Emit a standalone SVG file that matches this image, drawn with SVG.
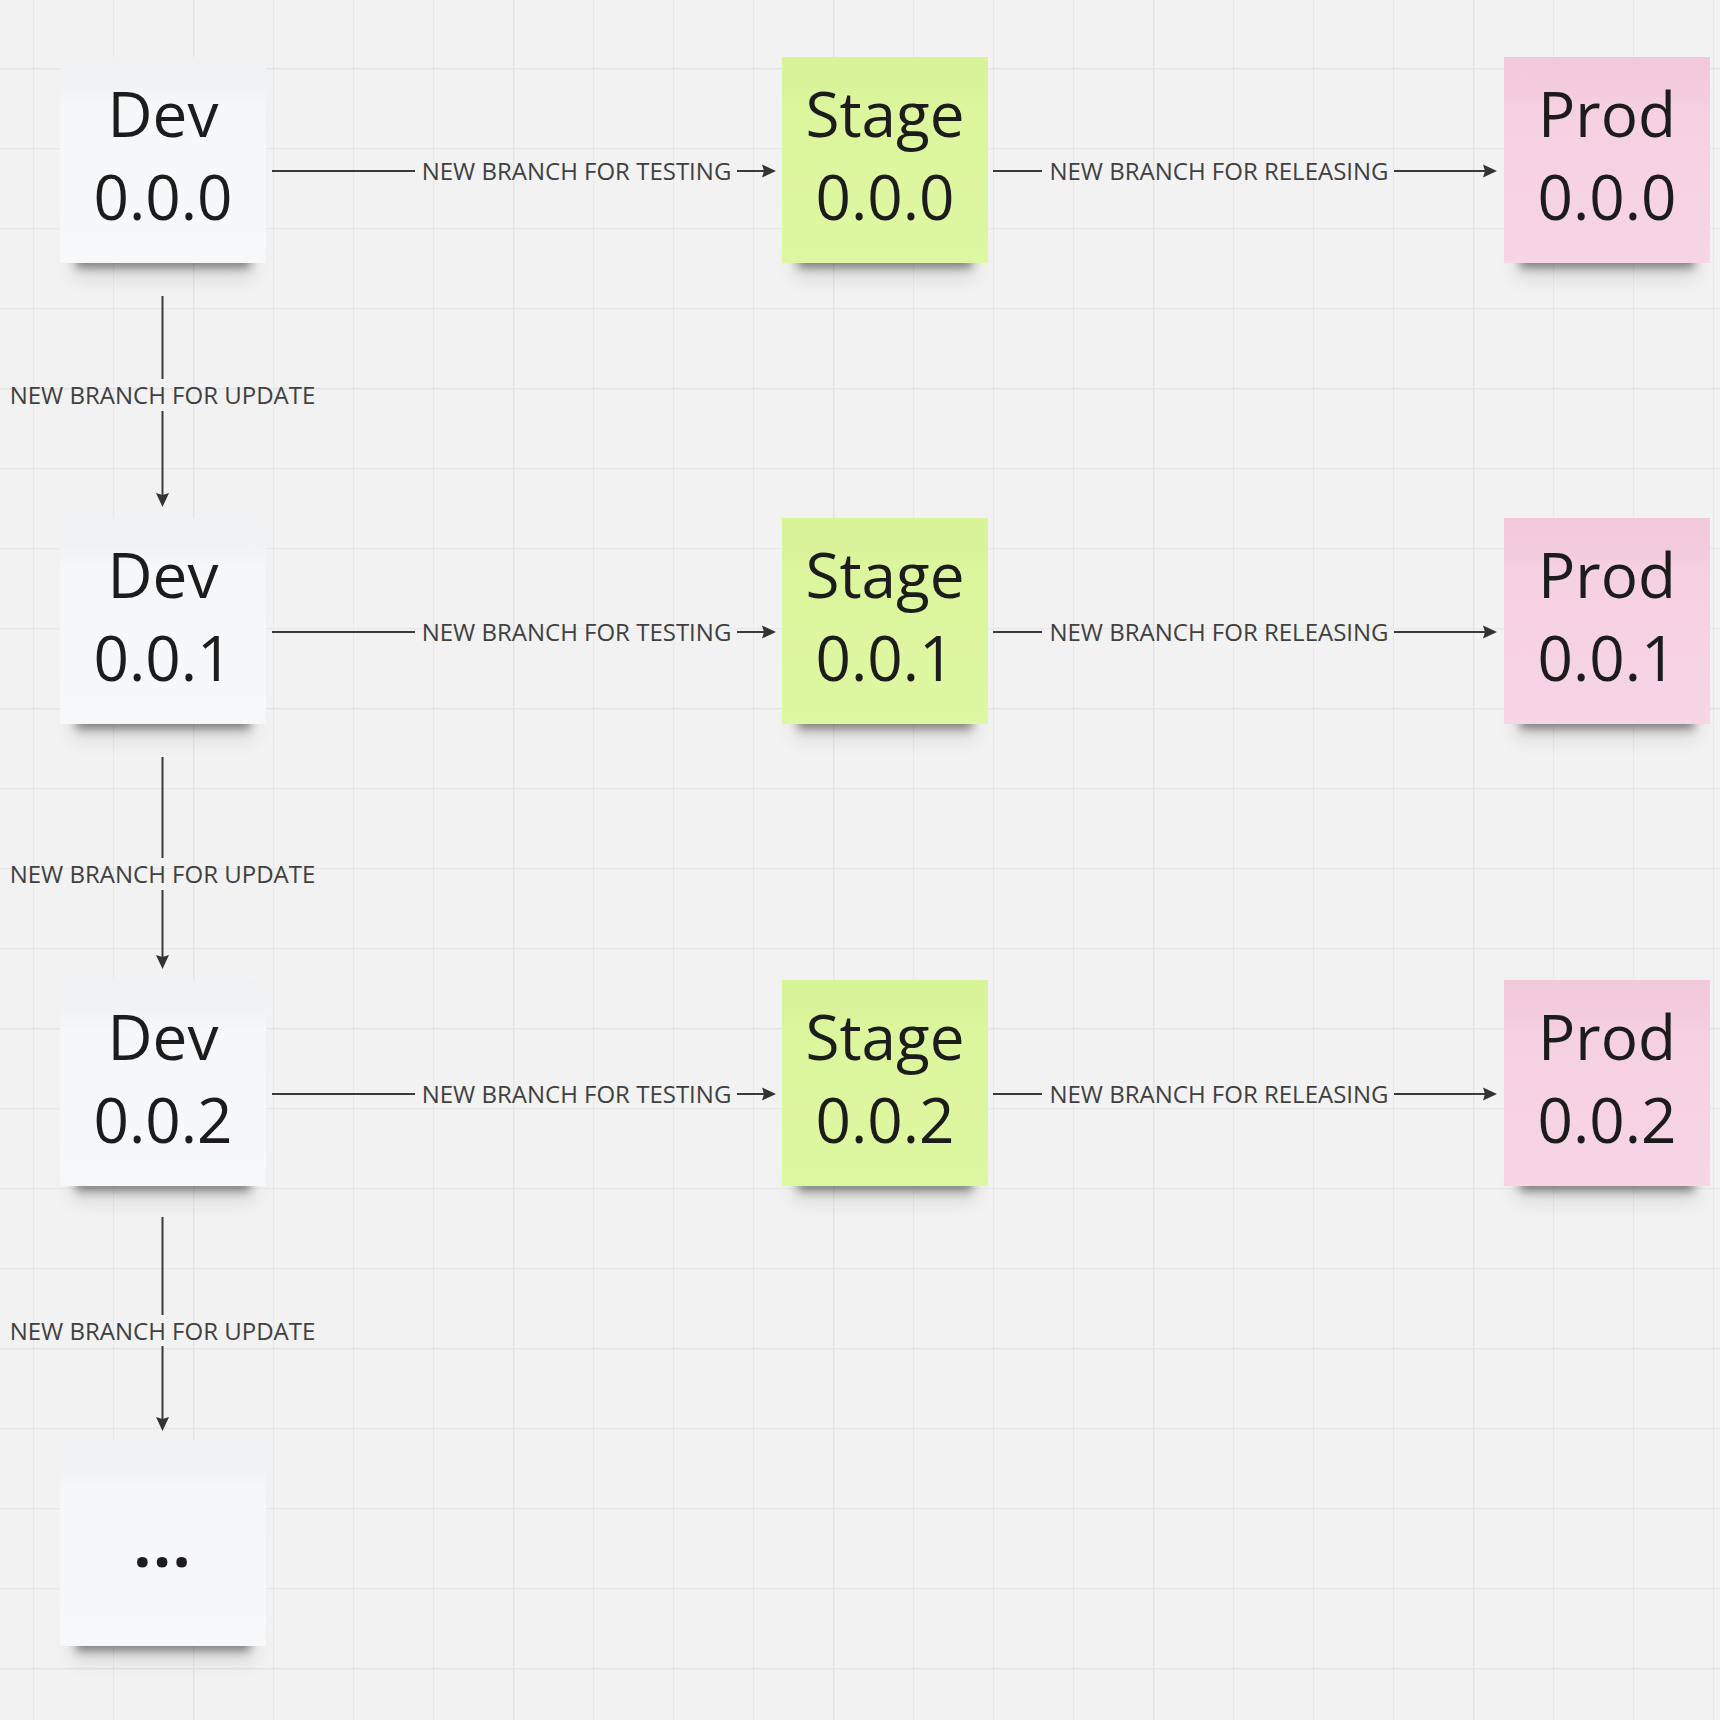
<svg xmlns="http://www.w3.org/2000/svg" width="1720" height="1720" viewBox="0 0 1720 1720">
<defs>
<style>
.nt{font-family:"Open Sans","Liberation Sans",sans-serif;font-size:62px;fill:#1c1c1c;text-anchor:middle}
.lb{font-family:"Open Sans","Liberation Sans",sans-serif;font-size:24px;fill:#404040;text-anchor:middle}
.ln{stroke:#3a3a3a;stroke-width:2;fill:none}
.sh{fill:#000;opacity:.42;filter:url(#blur)}
.sh2{fill:#000;opacity:.10;filter:url(#blur2)}
.dev{fill:url(#gDev)}
.stage{fill:url(#gStage)}
.prod{fill:url(#gProd)}
</style>
<filter id="blur" x="-20%" y="-100%" width="140%" height="300%"><feGaussianBlur stdDeviation="5"/></filter>
<filter id="blur2" x="-20%" y="-100%" width="140%" height="300%"><feGaussianBlur stdDeviation="10"/></filter>
<linearGradient id="gDev" x1="0" y1="0" x2="0" y2="1">
<stop offset="0" stop-color="#f0f1f3"/><stop offset="0.14" stop-color="#f1f2f4"/><stop offset="0.24" stop-color="#f6f7f9"/><stop offset="1" stop-color="#f7f8fa"/>
</linearGradient>
<linearGradient id="gStage" x1="0" y1="0" x2="0" y2="1">
<stop offset="0" stop-color="#d8f398"/><stop offset="0.14" stop-color="#d9f39a"/><stop offset="0.24" stop-color="#dcf69d"/><stop offset="1" stop-color="#def7a2"/>
</linearGradient>
<linearGradient id="gProd" x1="0" y1="0" x2="0" y2="1">
<stop offset="0" stop-color="#f1c9db"/><stop offset="0.14" stop-color="#f2cbdd"/><stop offset="0.24" stop-color="#f5d0e1"/><stop offset="1" stop-color="#f7d5e5"/>
</linearGradient>
<pattern id="gridMinor" patternUnits="userSpaceOnUse" x="33" y="68" width="80" height="80">
<path d="M0 0V80M0 0H80" stroke="#e8e8e8" stroke-width="2.4" fill="none"/>
</pattern>
<pattern id="gridMajor" patternUnits="userSpaceOnUse" x="193" y="68" width="320" height="320">
<path d="M0 0V320M0 0H320" stroke="#e3e3e3" stroke-width="2.6" fill="none"/>
</pattern>
<marker id="arr" markerUnits="userSpaceOnUse" markerWidth="16" markerHeight="16" refX="11" refY="7" orient="auto">
<path d="M0,0.5 L14,7 L0,13.5 L2,7 Z" fill="#333333"/>
</marker>
</defs>

<rect width="1720" height="1720" fill="#f2f2f2"/>
<rect width="1720" height="1720" fill="url(#gridMinor)"/>
<rect width="1720" height="1720" fill="url(#gridMajor)"/>

<g id="connectors">
<!-- row 1 -->
<line class="ln" x1="272" y1="171" x2="415" y2="171"/>
<text class="lb" x="576.5" y="180">NEW BRANCH FOR TESTING</text>
<line class="ln" x1="737" y1="171" x2="773" y2="171" marker-end="url(#arr)"/>
<line class="ln" x1="993" y1="171" x2="1042" y2="171"/>
<text class="lb" x="1219" y="180">NEW BRANCH FOR RELEASING</text>
<line class="ln" x1="1394" y1="171" x2="1494" y2="171" marker-end="url(#arr)"/>
<!-- row 2 -->
<line class="ln" x1="272" y1="632" x2="415" y2="632"/>
<text class="lb" x="576.5" y="641">NEW BRANCH FOR TESTING</text>
<line class="ln" x1="737" y1="632" x2="773" y2="632" marker-end="url(#arr)"/>
<line class="ln" x1="993" y1="632" x2="1042" y2="632"/>
<text class="lb" x="1219" y="641">NEW BRANCH FOR RELEASING</text>
<line class="ln" x1="1394" y1="632" x2="1494" y2="632" marker-end="url(#arr)"/>
<!-- row 3 -->
<line class="ln" x1="272" y1="1094" x2="415" y2="1094"/>
<text class="lb" x="576.5" y="1103">NEW BRANCH FOR TESTING</text>
<line class="ln" x1="737" y1="1094" x2="773" y2="1094" marker-end="url(#arr)"/>
<line class="ln" x1="993" y1="1094" x2="1042" y2="1094"/>
<text class="lb" x="1219" y="1103">NEW BRANCH FOR RELEASING</text>
<line class="ln" x1="1394" y1="1094" x2="1494" y2="1094" marker-end="url(#arr)"/>
<!-- vertical -->
<line class="ln" x1="162.5" y1="296" x2="162.5" y2="379"/>
<text class="lb" x="162.5" y="404">NEW BRANCH FOR UPDATE</text>
<line class="ln" x1="162.5" y1="411" x2="162.5" y2="504" marker-end="url(#arr)"/>
<line class="ln" x1="162.5" y1="757" x2="162.5" y2="858"/>
<text class="lb" x="162.5" y="883">NEW BRANCH FOR UPDATE</text>
<line class="ln" x1="162.5" y1="890" x2="162.5" y2="966" marker-end="url(#arr)"/>
<line class="ln" x1="162.5" y1="1217" x2="162.5" y2="1315"/>
<text class="lb" x="162.5" y="1340">NEW BRANCH FOR UPDATE</text>
<line class="ln" x1="162.5" y1="1346" x2="162.5" y2="1428" marker-end="url(#arr)"/>
</g>

<g id="dev-000">
<rect class="sh2" x="72" y="250" width="182" height="28"/>
<rect class="sh" x="76" y="252" width="174" height="16"/>
<rect class="dev" x="60" y="57" width="206" height="206"/>
<text class="nt" x="163" y="137">Dev</text>
<text class="nt" x="163" y="220">0.0.0</text>
</g>
<g id="stage-000">
<rect class="sh2" x="794" y="250" width="182" height="28"/>
<rect class="sh" x="798" y="252" width="174" height="16"/>
<rect class="stage" x="782" y="57" width="206" height="206"/>
<text class="nt" x="885" y="137">Stage</text>
<text class="nt" x="885" y="220">0.0.0</text>
</g>
<g id="prod-000">
<rect class="sh2" x="1516" y="250" width="182" height="28"/>
<rect class="sh" x="1520" y="252" width="174" height="16"/>
<rect class="prod" x="1504" y="57" width="206" height="206"/>
<text class="nt" x="1607" y="137">Prod</text>
<text class="nt" x="1607" y="220">0.0.0</text>
</g>

<g id="dev-001">
<rect class="sh2" x="72" y="711" width="182" height="28"/>
<rect class="sh" x="76" y="713" width="174" height="16"/>
<rect class="dev" x="60" y="518" width="206" height="206"/>
<text class="nt" x="163" y="598">Dev</text>
<text class="nt" x="163" y="681">0.0.1</text>
</g>
<g id="stage-001">
<rect class="sh2" x="794" y="711" width="182" height="28"/>
<rect class="sh" x="798" y="713" width="174" height="16"/>
<rect class="stage" x="782" y="518" width="206" height="206"/>
<text class="nt" x="885" y="598">Stage</text>
<text class="nt" x="885" y="681">0.0.1</text>
</g>
<g id="prod-001">
<rect class="sh2" x="1516" y="711" width="182" height="28"/>
<rect class="sh" x="1520" y="713" width="174" height="16"/>
<rect class="prod" x="1504" y="518" width="206" height="206"/>
<text class="nt" x="1607" y="598">Prod</text>
<text class="nt" x="1607" y="681">0.0.1</text>
</g>

<g id="dev-002">
<rect class="sh2" x="72" y="1173" width="182" height="28"/>
<rect class="sh" x="76" y="1175" width="174" height="16"/>
<rect class="dev" x="60" y="980" width="206" height="206"/>
<text class="nt" x="163" y="1060">Dev</text>
<text class="nt" x="163" y="1143">0.0.2</text>
</g>
<g id="stage-002">
<rect class="sh2" x="794" y="1173" width="182" height="28"/>
<rect class="sh" x="798" y="1175" width="174" height="16"/>
<rect class="stage" x="782" y="980" width="206" height="206"/>
<text class="nt" x="885" y="1060">Stage</text>
<text class="nt" x="885" y="1143">0.0.2</text>
</g>
<g id="prod-002">
<rect class="sh2" x="1516" y="1173" width="182" height="28"/>
<rect class="sh" x="1520" y="1175" width="174" height="16"/>
<rect class="prod" x="1504" y="980" width="206" height="206"/>
<text class="nt" x="1607" y="1060">Prod</text>
<text class="nt" x="1607" y="1143">0.0.2</text>
</g>

<g id="dev-more">
<rect class="sh2" x="72" y="1633" width="182" height="28"/>
<rect class="sh" x="76" y="1635" width="174" height="16"/>
<rect class="dev" x="60" y="1440" width="206" height="206"/>
<text class="nt" x="163" y="1567" style="letter-spacing:2px;font-weight:bold">...</text>
</g>
</svg>
